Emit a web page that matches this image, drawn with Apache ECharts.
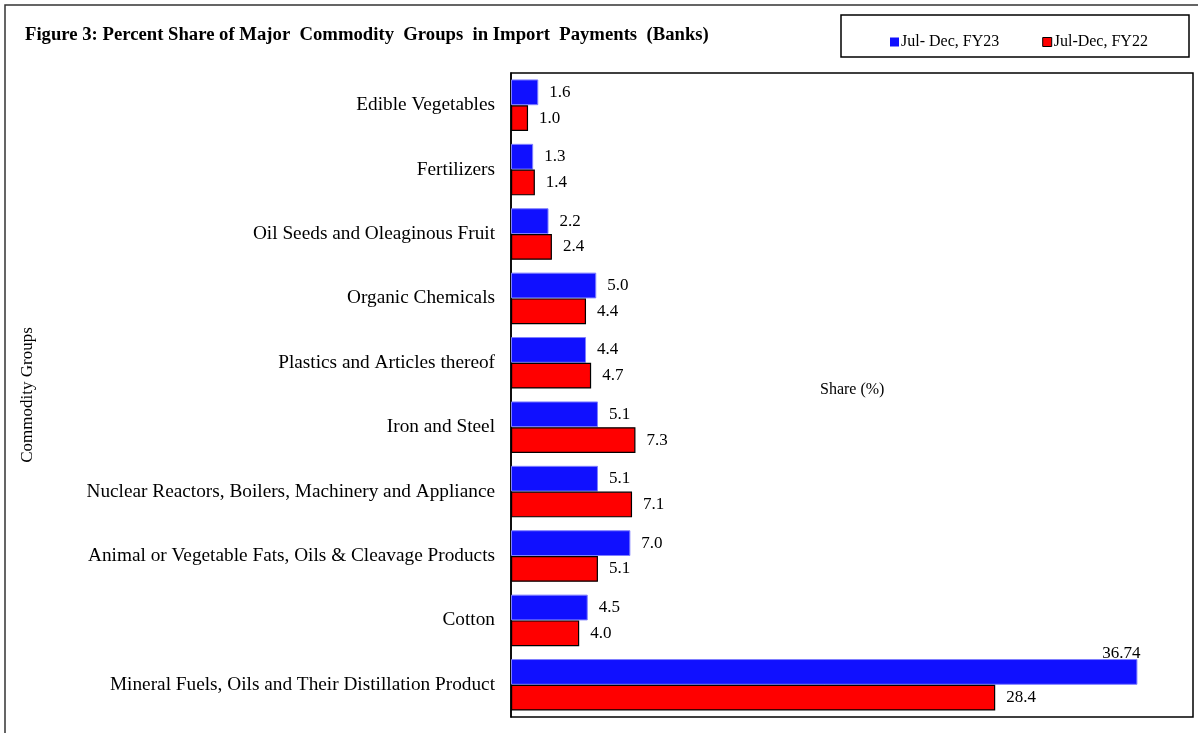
<!DOCTYPE html>
<html>
<head>
<meta charset="utf-8">
<script src="https://cdn.jsdelivr.net/npm/echarts@6/dist/echarts.min.js"></script>
<style>
html,body{margin:0;padding:0;background:#fff;}
#c{width:1198px;height:733px;}
</style>
</head>
<body>
<div id="c"></div>
<script>
const categories = [
  "Edible Vegetables",
  "Fertilizers",
  "Oil Seeds and Oleaginous Fruit",
  "Organic Chemicals",
  "Plastics and Articles thereof",
  "Iron and Steel",
  "Nuclear Reactors, Boilers, Machinery and Appliance",
  "Animal or Vegetable Fats, Oils & Cleavage Products",
  "Cotton",
  "Mineral Fuels, Oils and Their Distillation Product"
];
const fy23 = [1.6, 1.3, 2.2, 5.0, 4.4, 5.1, 5.1, 7.0, 4.5, 36.74];
const fy22 = [1.0, 1.4, 2.4, 4.4, 4.7, 7.3, 7.1, 5.1, 4.0, 28.4];
const seriesNames = ["Jul- Dec, FY23", "Jul-Dec, FY22"];

const FONT = "'Liberation Serif', 'Times New Roman', serif";
function fmt(v){ return Math.abs(v*10-Math.round(v*10))<1e-9 ? v.toFixed(1) : String(v); }

const chart = echarts.init(document.getElementById('c'), null, {renderer:'canvas'});

const fy23Data = fy23.map((v,i)=>{
  if (i === fy23.length-1) {
    return {value:v, label:{position:'insideTopRight', offset:[3,-14], distance:0}};
  }
  return v;
});

chart.setOption({
  animation:false,
  backgroundColor:'#fff',
  textStyle:{fontFamily:FONT},
  title:{
    text:"Figure 3: Percent Share of Major  Commodity  Groups  in Import  Payments  (Banks)",
    left:20, top:21,
    textStyle:{fontFamily:FONT, fontSize:18.7, fontWeight:'bold', color:'#000'}
  },
  legend:{
    data:[
      {name:seriesNames[0], itemStyle:{color:'#1010FF', borderWidth:0}},
      {name:seriesNames[1], itemStyle:{color:'#FF0000', borderColor:'#000', borderWidth:1}}
    ],
    left:885, top:29,
    itemWidth:9, itemHeight:9, itemGap:43,
    icon:'rect',
    textStyle:{fontFamily:FONT, fontSize:16, color:'#000', padding:[0,0,0,-3]}
  },
  graphic:[
    {type:'rect', shape:{x:5, y:5, width:1200, height:740}, style:{fill:'none', stroke:'#333', lineWidth:1.5}, z:-1},
    {type:'rect', shape:{x:841, y:15, width:348, height:42}, style:{fill:'none', stroke:'#000', lineWidth:1.5}},
    {type:'text', left:820, top:382, style:{text:'Share (%)', font:"16px 'Liberation Serif', serif", fill:'#000'}}
  ],
  grid:{left:511, top:73, right:5, bottom:16, show:true, borderColor:'#000', borderWidth:1.5, containLabel:false},
  xAxis:{
    type:'value', min:0, max:40,
    axisLabel:{show:false}, axisLine:{show:false}, axisTick:{show:false}, splitLine:{show:false}
  },
  yAxis:{
    type:'category', data:categories, inverse:true,
    name:'Commodity Groups', nameLocation:'middle', nameGap:475, nameRotate:90,
    nameTextStyle:{fontFamily:FONT, fontSize:17, color:'#000'},
    axisLine:{show:true, lineStyle:{color:'#000', width:1.5}},
    axisTick:{show:false},
    axisLabel:{fontFamily:FONT, fontSize:19.3, color:'#000', margin:16}
  },
  series:[
    {
      name:seriesNames[0], type:'bar', data:fy23Data,
      barGap:'0%', barCategoryGap:'20%',
      itemStyle:{color:'#1010FF', borderColor:'#7f7fff', borderWidth:1},
      label:{show:true, position:'right', distance:11, fontFamily:FONT, fontSize:17, color:'#000', formatter:p=>fmt(p.value)}
    },
    {
      name:seriesNames[1], type:'bar', data:fy22,
      barGap:'0%', barCategoryGap:'20%',
      itemStyle:{color:'#FF0000', borderColor:'#000', borderWidth:1.2},
      label:{show:true, position:'right', distance:11, fontFamily:FONT, fontSize:17, color:'#000', formatter:p=>fmt(p.value)}
    }
  ]
});
</script>
</body>
</html>
